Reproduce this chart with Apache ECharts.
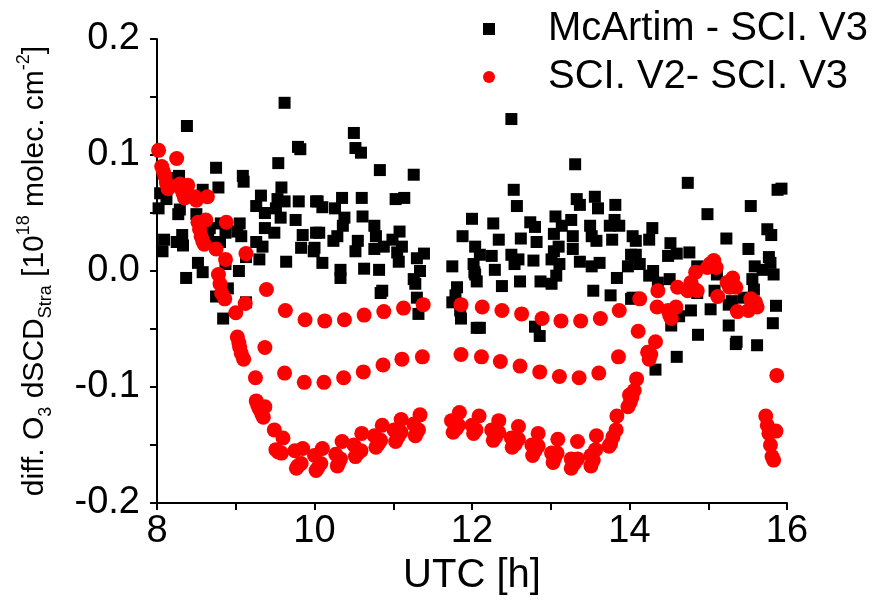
<!DOCTYPE html>
<html>
<head>
    <meta charset="utf-8">
    <title>O3 dSCD diff</title>
    <script src="https://cdn.jsdelivr.net/npm/echarts@6/dist/echarts.min.js"></script>
</head>
<body style="margin:0;background:#fff;">
    <div id="main" style="width:881px;height:602px;"></div>
    <script type="text/javascript">
        // series names (legend)
        var seriesNames = ['McArtim - SCI. V3', 'SCI. V2- SCI. V3'];

        // McArtim - SCI. V3 : [UTC hour, diff]
        var mcartimData = [
            [9.62, 0.145], [8.38, 0.125], [9.79, 0.107], [9.82, 0.105], [9.54, 0.093], [8.75, 0.089], [9.09, 0.082], [9.10, 0.077],
            [8.28, 0.082], [8.13, 0.080], [8.78, 0.072], [9.58, 0.072], [8.58, 0.070], [8.04, 0.067], [8.12, 0.062], [9.32, 0.065],
            [9.53, 0.062], [9.62, 0.060], [9.80, 0.060], [10.02, 0.060], [9.26, 0.056], [9.37, 0.050], [9.51, 0.054], [9.57, 0.046],
            [9.76, 0.044], [8.02, 0.054], [8.29, 0.053], [8.27, 0.049], [8.50, 0.049], [9.05, 0.041], [8.81, 0.041], [8.67, 0.037],
            [8.87, 0.033], [9.02, 0.034], [9.07, 0.030], [9.37, 0.037], [9.49, 0.033], [9.85, 0.031], [10.02, 0.033], [8.09, 0.027],
            [8.32, 0.031], [8.25, 0.025], [8.33, 0.022], [8.65, 0.027], [8.80, 0.025], [9.26, 0.025], [9.34, 0.021], [9.83, 0.020],
            [9.99, 0.017], [8.07, 0.017], [9.13, 0.012], [9.30, 0.010], [9.64, 0.008], [8.52, 0.007], [8.87, 0.006], [8.58, -0.001],
            [9.04, 0.000], [8.37, -0.006], [8.90, -0.015], [8.75, -0.022], [9.13, -0.027], [8.84, -0.041],
            [10.50, 0.119], [10.52, 0.106], [10.59, 0.102], [10.83, 0.087], [11.26, 0.083], [10.04, 0.060], [10.10, 0.055], [10.35, 0.063],
            [10.60, 0.063], [11.03, 0.062], [11.14, 0.063], [10.26, 0.054], [10.38, 0.046], [10.61, 0.047], [10.36, 0.039], [10.76, 0.039],
            [10.06, 0.033], [10.29, 0.030], [10.55, 0.026], [10.78, 0.030], [11.08, 0.034], [10.99, 0.027], [10.00, 0.020], [10.24, 0.026],
            [10.52, 0.017], [10.76, 0.019], [10.88, 0.021], [11.05, 0.016], [11.11, 0.021], [10.10, 0.007], [10.33, 0.001], [10.63, 0.002],
            [10.82, 0.001], [11.07, 0.008], [11.30, 0.011], [11.39, 0.015], [10.33, -0.006], [11.34, 0.000], [11.26, -0.007], [11.28, -0.011],
            [10.86, -0.017], [10.84, -0.019], [11.30, -0.023], [11.32, -0.037], [12.00, 0.045], [11.88, 0.030], [12.04, 0.021], [11.75, 0.004],
            [12.02, 0.006], [12.04, -0.003], [11.81, -0.014], [11.79, -0.021], [11.75, -0.027], [11.85, -0.034], [11.86, -0.041], [12.06, -0.049],
            [12.50, 0.131], [13.31, 0.092], [12.53, 0.070], [12.57, 0.056], [13.33, 0.062], [13.37, 0.057], [13.56, 0.064], [13.60, 0.054],
            [13.82, 0.057], [12.27, 0.041], [12.74, 0.042], [12.80, 0.038], [13.06, 0.047], [13.14, 0.039], [13.26, 0.044], [13.50, 0.039],
            [13.75, 0.039], [13.81, 0.044], [13.87, 0.039], [12.34, 0.027], [12.62, 0.028], [12.82, 0.025], [13.04, 0.032], [13.28, 0.030],
            [13.52, 0.030], [13.58, 0.026], [13.78, 0.027], [14.04, 0.030], [12.10, 0.014], [12.25, 0.013], [12.50, 0.014], [12.59, 0.010],
            [12.78, 0.009], [13.04, 0.017], [13.10, 0.021], [13.28, 0.019], [13.01, 0.010], [13.11, 0.006], [13.37, 0.008], [13.52, 0.004],
            [13.62, 0.007], [14.02, 0.014], [13.98, 0.004], [12.03, -0.001], [12.06, -0.009], [12.29, 0.001], [12.54, 0.006], [12.38, -0.013],
            [12.61, -0.009], [12.87, -0.009], [13.01, -0.011], [13.07, -0.004], [13.54, -0.017], [13.76, -0.021], [13.84, -0.006], [14.04, -0.023],
            [12.10, -0.049], [12.80, -0.048], [12.86, -0.056],
            [14.74, 0.076], [15.88, 0.070], [15.93, 0.071], [15.54, 0.056], [14.99, 0.049], [14.29, 0.037], [15.75, 0.036], [15.80, 0.031],
            [14.08, 0.026], [14.25, 0.027], [15.23, 0.028], [14.52, 0.024], [15.51, 0.019], [14.08, 0.014], [14.49, 0.013], [14.60, 0.015],
            [14.76, 0.016], [15.77, 0.012], [15.79, 0.007], [14.13, 0.006], [14.30, 0.000], [14.25, -0.004], [14.36, -0.010], [14.51, -0.007],
            [14.86, 0.004], [15.11, -0.003], [15.59, 0.004], [15.56, -0.007], [15.69, 0.001], [15.83, -0.003], [14.86, -0.019], [15.08, -0.017],
            [15.58, -0.016], [14.02, -0.024], [14.78, -0.034], [15.03, -0.033], [15.26, -0.029], [15.30, -0.026], [15.45, -0.023], [14.63, -0.039],
            [14.53, -0.047], [15.26, -0.047], [15.86, -0.030], [15.82, -0.045], [14.87, -0.055], [15.36, -0.061], [15.62, -0.064], [15.35, -0.063],
            [14.60, -0.074], [14.33, -0.085]
        ];

        // SCI. V2 - SCI. V3 : [UTC hour, diff]
        var sciData = [
            // morning
            [8.02, 0.104], [8.06, 0.090], [8.08, 0.086], [8.10, 0.082], [8.12, 0.076], [8.14, 0.071], [8.25, 0.097], [8.29, 0.075],
            [8.31, 0.071], [8.33, 0.067], [8.35, 0.063], [8.39, 0.074], [8.48, 0.064], [8.50, 0.061], [8.64, 0.064], [8.52, 0.042],
            [8.54, 0.036], [8.56, 0.030], [8.58, 0.026], [8.60, 0.023], [8.62, 0.044], [8.75, 0.019], [8.88, 0.042], [8.87, 0.010],
            [9.13, 0.015], [8.78, -0.003], [8.80, -0.011], [8.82, -0.019], [8.86, -0.024], [9.00, -0.036], [9.12, -0.028], [9.39, -0.016],
            // upper branch
            [9.63, -0.034], [9.88, -0.042], [10.13, -0.043], [10.38, -0.042], [10.63, -0.038], [10.88, -0.035], [11.13, -0.032], [11.38, -0.029],
            [11.86, -0.029], [12.13, -0.031], [12.38, -0.034], [12.63, -0.037], [12.89, -0.041], [13.13, -0.043], [13.38, -0.043], [13.63, -0.041],
            [13.87, -0.034], [14.13, -0.024], [14.11, -0.052],
            // middle branch
            [9.02, -0.057], [9.04, -0.062], [9.05, -0.066], [9.07, -0.071], [9.10, -0.076], [9.25, -0.092], [9.37, -0.066], [9.62, -0.088],
            [9.87, -0.096], [10.12, -0.096], [10.37, -0.092], [10.62, -0.087], [10.87, -0.081], [11.11, -0.076], [11.37, -0.074], [11.86, -0.072],
            [12.12, -0.074], [12.36, -0.078], [12.61, -0.082], [12.86, -0.087], [13.11, -0.091], [13.36, -0.092], [13.61, -0.088], [13.86, -0.074],
            // lower branch
            [9.26, -0.112], [9.28, -0.116], [9.30, -0.119], [9.33, -0.123], [9.35, -0.126], [9.37, -0.117], [9.49, -0.137], [9.60, -0.144],
            [9.51, -0.154], [9.54, -0.156], [9.58, -0.157], [9.75, -0.155], [9.85, -0.153], [9.77, -0.170], [9.79, -0.168], [9.83, -0.166],
            [10.00, -0.159], [10.02, -0.172], [10.04, -0.170], [10.08, -0.166], [10.10, -0.153], [10.27, -0.158], [10.29, -0.168], [10.31, -0.165],
            [10.33, -0.162], [10.35, -0.147], [10.50, -0.150], [10.52, -0.160], [10.55, -0.157], [10.59, -0.155], [10.60, -0.140], [10.76, -0.142],
            [10.78, -0.152], [10.81, -0.149], [10.84, -0.146], [10.86, -0.133], [11.01, -0.137], [11.03, -0.147], [11.06, -0.143], [11.10, -0.139],
            [11.10, -0.128], [11.26, -0.132], [11.28, -0.142], [11.30, -0.139], [11.32, -0.137], [11.34, -0.124], [11.74, -0.129], [11.76, -0.139],
            [11.80, -0.136], [11.83, -0.133], [11.84, -0.122], [12.00, -0.133], [12.02, -0.140], [12.05, -0.137], [12.09, -0.125], [12.25, -0.137],
            [12.27, -0.146], [12.30, -0.143], [12.34, -0.139], [12.34, -0.129], [12.50, -0.144], [12.51, -0.152], [12.55, -0.149], [12.59, -0.145],
            [12.59, -0.134], [12.76, -0.150], [12.77, -0.159], [12.80, -0.155], [12.84, -0.151], [12.84, -0.140], [13.01, -0.157], [13.03, -0.165],
            [13.05, -0.161], [13.08, -0.157], [13.09, -0.145], [13.26, -0.162], [13.26, -0.170], [13.30, -0.166], [13.34, -0.162], [13.34, -0.147],
            [13.51, -0.159], [13.51, -0.168], [13.54, -0.163], [13.57, -0.154], [13.58, -0.142], [13.74, -0.151], [13.76, -0.149], [13.79, -0.143],
            [13.83, -0.137], [13.84, -0.125],
            // afternoon
            [13.98, -0.117], [14.00, -0.107], [14.01, -0.113], [14.03, -0.109], [14.06, -0.103], [14.09, -0.093], [14.23, -0.070], [14.25, -0.076],
            [14.27, -0.072], [14.33, -0.061], [14.35, -0.031], [14.36, -0.017], [14.49, -0.034], [14.51, -0.038], [14.53, -0.041], [14.59, -0.031],
            [14.61, -0.014], [14.74, -0.017], [14.78, -0.010], [14.80, -0.014], [14.84, -0.001], [14.86, -0.017], [14.99, 0.003], [15.02, 0.006],
            [15.07, 0.009], [15.10, 0.003], [15.12, -0.022], [15.24, -0.010], [15.27, -0.014], [15.31, -0.006], [15.35, -0.014], [15.37, -0.035],
            [15.51, -0.034], [15.54, -0.024], [15.56, -0.027], [15.60, -0.027], [15.62, -0.031],
            // late
            [15.73, -0.125], [15.75, -0.133], [15.77, -0.140], [15.86, -0.138], [15.79, -0.150], [15.81, -0.160], [15.83, -0.163], [15.87, -0.090]
        ];

        var fontName = "'Liberation Sans', Arial, sans-serif";

        var myChart = echarts.init(document.getElementById('main'));

        var option = {
            backgroundColor: '#fff',
            animation: false,
            grid: {
                left: 157,
                right: 94,
                top: 39,
                bottom: 99
            },
            legend: {
                orient: 'vertical',
                left: 478,
                top: 4,
                itemGap: 8,
                itemWidth: 12,
                itemHeight: 12,
                textStyle: {
                    fontFamily: fontName,
                    fontSize: 40,
                    color: '#000',
                    padding: [0, 0, 0, 48]
                },
                data: seriesNames
            },
            xAxis: {
                type: 'value',
                min: 8,
                max: 16,
                interval: 1,
                name: 'UTC [h]',
                nameLocation: 'middle',
                nameGap: 50,
                nameTextStyle: { fontFamily: fontName, fontSize: 40, color: '#000' },
                axisLine: { onZero: false, lineStyle: { color: '#000', width: 2 } },
                axisTick: { length: 7, lineStyle: { color: '#000', width: 2 } },
                axisLabel: {
                    margin: 10,
                    fontFamily: fontName,
                    fontSize: 38,
                    color: '#000',
                    formatter: function (v) { return v % 2 === 0 ? String(v) : ''; }
                },
                splitLine: { show: false }
            },
            yAxis: {
                type: 'value',
                min: -0.2,
                max: 0.2,
                interval: 0.05,
                name: '{n|diff. O}{sub|3}{n| dSCD}{sub|Stra}{n| [10}{sup|18}{n| molec. cm}{sup|-2}{n|]}',
                nameLocation: 'middle',
                nameRotate: 90,
                nameGap: 102,
                nameTextStyle: {
                    fontFamily: fontName,
                    color: '#000',
                    rich: {
                        n: { fontFamily: fontName, fontSize: 30, lineHeight: 40, color: '#000' },
                        sub: { fontFamily: fontName, fontSize: 18, lineHeight: 18, verticalAlign: 'bottom', color: '#000' },
                        sup: { fontFamily: fontName, fontSize: 18, lineHeight: 18, verticalAlign: 'top', color: '#000' }
                    }
                },
                axisLine: { show: true, onZero: false, lineStyle: { color: '#000', width: 2 } },
                axisTick: { show: true, length: 7, lineStyle: { color: '#000', width: 2 } },
                axisLabel: {
                    margin: 17,
                    fontFamily: fontName,
                    fontSize: 38,
                    color: '#000',
                    formatter: function (v) {
                        var r = Math.round(v * 100);
                        return r % 10 === 0 ? (r / 100).toFixed(1) : '';
                    }
                },
                splitLine: { show: false }
            },
            series: [{
                name: seriesNames[0],
                type: 'scatter',
                symbol: 'rect',
                symbolSize: 12,
                itemStyle: { color: '#000', opacity: 1 },
                data: mcartimData
            }, {
                name: seriesNames[1],
                type: 'scatter',
                symbol: 'circle',
                symbolSize: 15,
                itemStyle: { color: '#ff0000', opacity: 1 },
                data: sciData
            }]
        };

        myChart.setOption(option);
    </script>
</body>
</html>
